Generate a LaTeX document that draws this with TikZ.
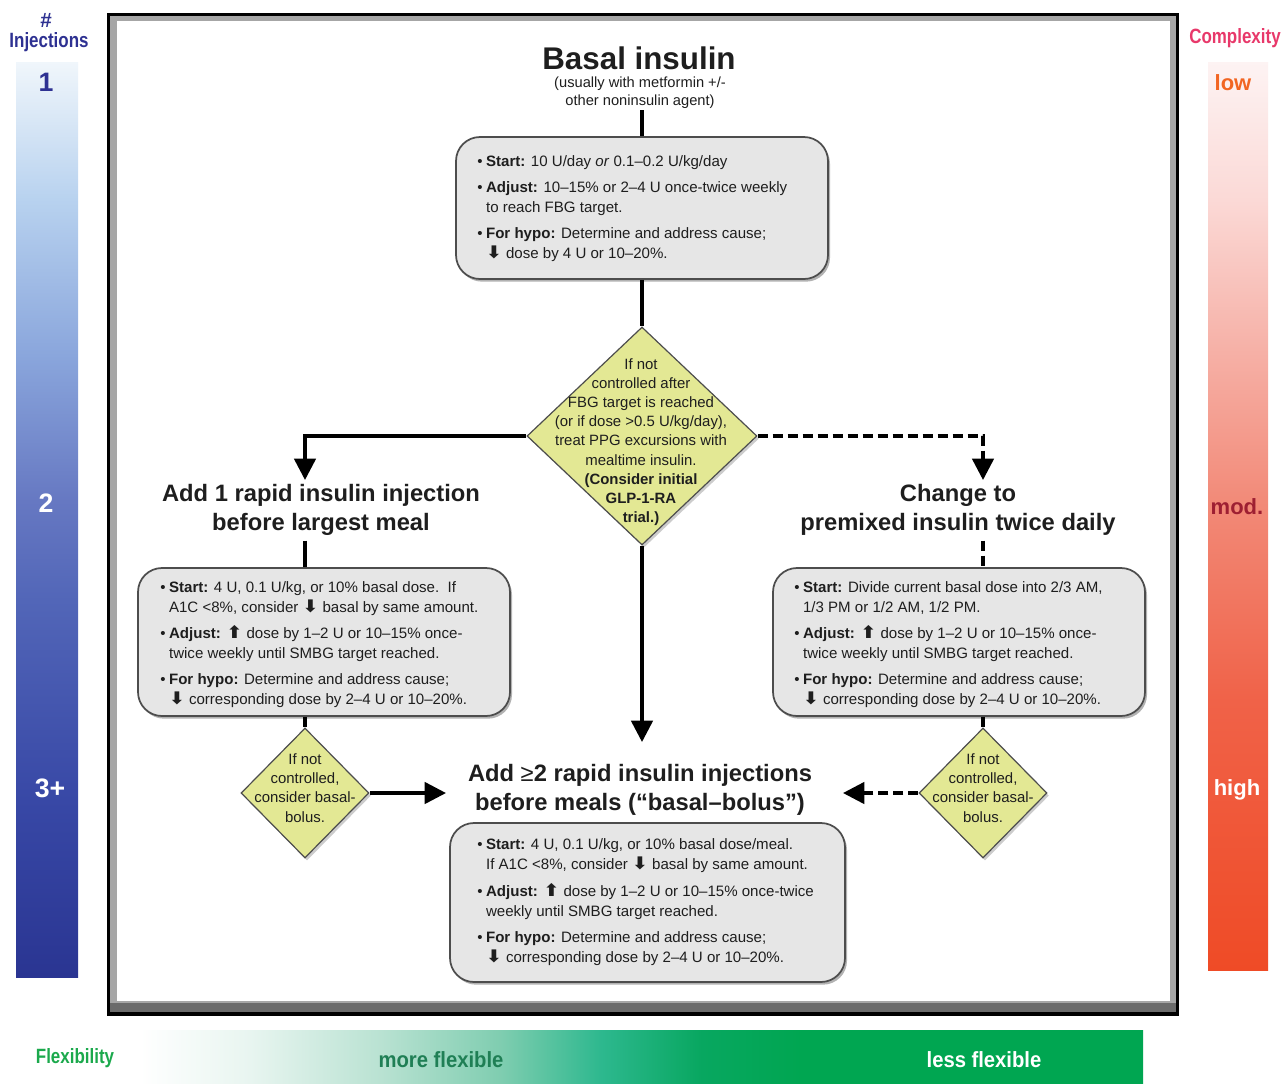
\documentclass[tikz,border=0pt]{standalone}
\usepackage{fontspec}
\setmainfont{Liberation Sans}
\newfontfamily\djv{DejaVu Sans}
\usepackage{graphicx}
\usetikzlibrary{shapes.geometric,arrows.meta,shadows}
\definecolor{boxfill}{HTML}{E6E6E6}
\definecolor{boxline}{HTML}{4D4D4D}
\definecolor{dfill}{HTML}{E3E894}
\definecolor{txt}{HTML}{1E1E1E}
\definecolor{navy}{HTML}{2E3192}
\definecolor{cplx}{HTML}{E8386A}
\definecolor{lowc}{HTML}{F26522}
\definecolor{modc}{HTML}{9E1F32}
\definecolor{flexg}{HTML}{1BA94C}
\definecolor{moreg}{HTML}{1F7F55}
\definecolor{iA}{HTML}{F0F6FB}
\definecolor{iB}{HTML}{B8D2EF}
\definecolor{iC}{HTML}{8AA6DC}
\definecolor{iD}{HTML}{6678C2}
\definecolor{iE}{HTML}{5266B8}
\definecolor{iF}{HTML}{3848A6}
\definecolor{iG}{HTML}{2A3592}
\definecolor{cA}{HTML}{FDF3F3}
\definecolor{cB}{HTML}{FBD9D6}
\definecolor{cC}{HTML}{F6B0A6}
\definecolor{cD}{HTML}{F28A78}
\definecolor{cE}{HTML}{F06248}
\definecolor{cF}{HTML}{EF4B26}
\definecolor{gA}{HTML}{FFFFFF}
\definecolor{gB}{HTML}{E8F5F0}
\definecolor{gC}{HTML}{B9E2D2}
\definecolor{gD}{HTML}{7FCDB0}
\definecolor{gE}{HTML}{2DB88E}
\definecolor{gF}{HTML}{08A760}
\definecolor{gG}{HTML}{00A651}
\pgfdeclareverticalshading{injshade}{100bp}{color(0bp)=(iG); color(25bp)=(iG); color(34.7bp)=(iF); color(45.6bp)=(iE); color(51bp)=(iD); color(59bp)=(iC); color(67.5bp)=(iB); color(75bp)=(iA); color(100bp)=(iA)}
\pgfdeclareverticalshading{cpxshade}{100bp}{color(0bp)=(cF); color(25bp)=(cF); color(39.8bp)=(cE); color(50.8bp)=(cD); color(59bp)=(cC); color(67.4bp)=(cB); color(75bp)=(cA); color(100bp)=(cA)}
\pgfdeclarehorizontalshading{flxshade}{100bp}{color(0bp)=(gA); color(25bp)=(gA); color(30.5bp)=(gB); color(37bp)=(gC); color(43bp)=(gD); color(48bp)=(gE); color(53bp)=(gF); color(58bp)=(gG); color(100bp)=(gG)}
\newcommand\bul{\makebox[6.6pt][l]{\textbullet}}
\newcommand\ind{\hspace*{6.6pt}}
\newcommand\dn{\scalebox{1.25}[1.15]{\djv\bfseries ⬇}}
\newcommand\upar{\scalebox{1.25}[1.15]{\djv\bfseries ⬆}}
\begin{document}
\begin{tikzpicture}[x=0.75pt,y=-0.75pt,
  box/.style={draw=boxline, line width=1.3pt, fill=boxfill, rounded corners=18pt,
    drop shadow={shadow xshift=1.5pt, shadow yshift=-2pt, fill=black!60, opacity=.5}},
  dia/.style={diamond, draw=boxline, line width=0.9pt, fill=dfill, inner sep=0pt,
    drop shadow={shadow xshift=1.5pt, shadow yshift=-2pt, fill=black!50, opacity=.4}},
  body/.style={font=\fontsize{11.3pt}{15pt}\selectfont, text=txt, inner sep=0pt, align=left, anchor=north west},
  dtext/.style={font=\fontsize{11.2pt}{14.4pt}\selectfont, text=txt, inner sep=0pt, align=center},
  head/.style={font=\bfseries\fontsize{17.8pt}{21.75pt}\selectfont, text=txt, align=center, inner sep=4pt},
  conn/.style={line width=2.6pt, draw=black},
  arr/.style={-{Triangle[length=16pt,width=16pt]}},
  dsh/.style={dash pattern=on 7.5pt off 3.75pt},
  lab/.style={font=\bfseries\fontsize{15.5pt}{16pt}\selectfont, inner sep=0pt},
  big/.style={font=\bfseries\fontsize{20pt}{20pt}\selectfont, inner sep=0pt},
  scl/.style={font=\bfseries\fontsize{16.5pt}{17pt}\selectfont, inner sep=0pt},
]
\useasboundingbox (0,0) rectangle (1285,1083);
\fill[white] (0,0) rectangle (1285,1083);
% side scales
\path[shading=injshade] (16,62) rectangle (78,977);
\path[shading=cpxshade] (1208,62) rectangle (1268,970);
\path[shading=flxshade] (140,1030) rectangle (1143,1083);
% frame
\fill[black] (107,13) rectangle (1179,1016);
\fill[black!35] (110,16) rectangle (1176,1012);
\fill[black!58] (110,1003) rectangle (1176,1012);
\fill[white] (117,21) rectangle (1170,1001);
% scale labels
\node[lab, text=navy] (hash) at (46,20) {\#};
\node[lab, text=navy] (inj) at (49,42) {\scalebox{0.82}[1]{Injections}};
\node[big, text=navy] (n1) at (46,82) {1};
\node[big, text=white] (n2) at (46,503) {2};
\node[big, text=white] (n3) at (50,788) {3+};
\node[lab, text=cplx] (cpx) at (1235,38) {\scalebox{0.82}[1]{Complexity}};
\node[scl, text=lowc] (low) at (1233,83) {low};
\node[scl, text=modc] (mod) at (1237,507) {mod.};
\node[scl, text=white] (high) at (1237,790) {high};
\node[lab, text=flexg] (flx) at (75,1058) {\scalebox{0.82}[1]{Flexibility}};
\node[scl, text=moreg] (more) at (441,1060) {\scalebox{0.92}[1]{more flexible}};
\node[scl, text=white] (less) at (984,1060) {\scalebox{0.92}[1]{less flexible}};
% titles
\node[font=\bfseries\fontsize{23.5pt}{26pt}\selectfont, text=txt, inner sep=0pt] (title) at (639,58) {Basal insulin};
\node[font=\fontsize{11pt}{13.5pt}\selectfont, text=txt, inner sep=1pt, align=center] (sub) at (640,93) {(usually with metformin +/-\\other noninsulin agent)};
% boxes
\node[box, minimum width=279pt, minimum height=106.5pt] (tbox) at (642,208) {};
\node[box, minimum width=279pt, minimum height=111pt] (lbox) at (324,642) {};
\node[box, minimum width=279pt, minimum height=111pt] (rbox) at (959,642) {};
\node[box, minimum width=296.25pt, minimum height=119.25pt] (bbox) at (647.5,902.5) {};
% diamonds
\node[dia, minimum width=172.5pt, minimum height=163.5pt] (bdia) at (642,436) {};
\node[dia, minimum width=96pt, minimum height=97.5pt] (ldia) at (305,793) {};
\node[dia, minimum width=96pt, minimum height=97.5pt] (rdia) at (983,793) {};
% diamond texts
\node[dtext] (bdt) at (641,442) {If not\\controlled after\\FBG target is reached\\(or if dose >0.5 U/kg/day),\\treat PPG excursions with\\mealtime insulin.\\\textbf{(Consider initial}\\\textbf{GLP-1-RA}\\\textbf{trial.)}};
\node[dtext] (ldt) at (305,788) {If not\\controlled,\\consider basal-\\bolus.};
\node[dtext] (rdt) at (983,788) {If not\\controlled,\\consider basal-\\bolus.};
% headings
\node[head] (h1) at (321,509.5) {Add 1 rapid insulin injection\\before largest meal};
\node[head] (h2) at (958,509.5) {Change to\\premixed insulin twice daily};
\node[head] (h3) at (640,789.5) {Add {\mdseries ≥}2 rapid insulin injections\\before meals (“basal–bolus”)};
% box texts
\node[body] (tt) at (477,155) {\bul\textbf{Start:} 10 U/day \textit{or} 0.1–0.2 U/kg/day\\[4.5pt]
\bul\textbf{Adjust:} 10–15\% or 2–4 U once-twice weekly\\
\ind to reach FBG target.\\[4.5pt]
\bul\textbf{For hypo:} Determine and address cause;\\
\ind\dn\ dose by 4 U or 10–20\%.};
\node[body] (lt) at (160,581) {\bul\textbf{Start:} 4 U, 0.1 U/kg, or 10\% basal dose.\ \ If\\
\ind A1C <8\%, consider \dn\ basal by same amount.\\[4.5pt]
\bul\textbf{Adjust:} \upar\ dose by 1–2 U or 10–15\% once-\\
\ind twice weekly until SMBG target reached.\\[4.5pt]
\bul\textbf{For hypo:} Determine and address cause;\\
\ind\dn\ corresponding dose by 2–4 U or 10–20\%.};
\node[body] (rt) at (794,581) {\bul\textbf{Start:} Divide current basal dose into 2/3 AM,\\
\ind 1/3 PM or 1/2 AM, 1/2 PM.\\[4.5pt]
\bul\textbf{Adjust:} \upar\ dose by 1–2 U or 10–15\% once-\\
\ind twice weekly until SMBG target reached.\\[4.5pt]
\bul\textbf{For hypo:} Determine and address cause;\\
\ind\dn\ corresponding dose by 2–4 U or 10–20\%.};
\node[body] (bt) at (477,838) {\bul\textbf{Start:} 4 U, 0.1 U/kg, or 10\% basal dose/meal.\\
\ind If A1C <8\%, consider \dn\ basal by same amount.\\[5.5pt]
\bul\textbf{Adjust:} \upar\ dose by 1–2 U or 10–15\% once-twice\\
\ind weekly until SMBG target reached.\\[4.5pt]
\bul\textbf{For hypo:} Determine and address cause;\\
\ind\dn\ corresponding dose by 2–4 U or 10–20\%.};
% arrow tips
\coordinate (a1) at (305,480);
\coordinate (a2) at (983,480);
\coordinate (a3) at (642,742);
\coordinate (a4) at (446,793);
\coordinate (a5) at (843,793);
% connectors
\draw[conn] (sub.south -| tbox.north) -- (tbox.north);
\draw[conn] (tbox.south) -- (bdia.north);
\draw[conn,arr] (bdia.west) -| (a1);
\draw[conn,dsh,arr] (bdia.east) -| (a2);
\draw[conn,arr] (bdia.south) -- (a3);
\draw[conn] (h1.south -| a1) -- (lbox.north -| a1);
\draw[conn] (lbox.south -| ldia.north) -- (ldia.north);
\draw[conn,arr] (ldia.east) -- (a4);
\draw[conn,dsh] (h2.south -| a2) -- (rbox.north -| a2);
\draw[conn,dsh] (rbox.south -| rdia.north) -- (rdia.north);
\draw[conn,dsh,arr] (rdia.west) -- (a5);
\end{tikzpicture}
\end{document}
